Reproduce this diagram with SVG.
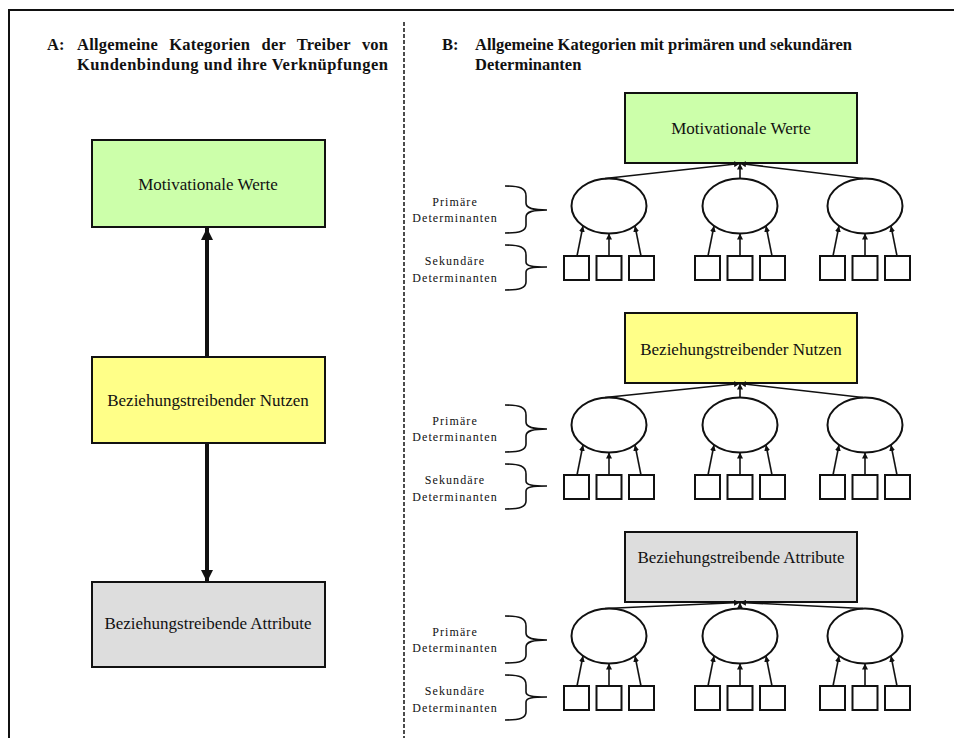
<svg xmlns="http://www.w3.org/2000/svg" width="954" height="738" viewBox="0 0 954 738">
<defs>
<style>
.hdr{font-family:"Liberation Serif","Times New Roman",serif;font-weight:bold;font-size:16.5px;fill:#111}
.lbl{font-family:"Liberation Serif","Times New Roman",serif;font-size:17px;fill:#111;text-anchor:middle}
.sm{font-family:"Liberation Serif","Times New Roman",serif;font-size:12px;fill:#111;text-anchor:middle;letter-spacing:1.1px}
.box{stroke:#111;stroke-width:2}
.ell{fill:#fff;stroke:#111;stroke-width:2}
.sq{fill:#fff;stroke:#111;stroke-width:2}
.ln{stroke:#111;stroke-width:1.6;fill:none}
.brace{stroke:#111;stroke-width:1.6;fill:none}
.thick{stroke:#111;stroke-width:4;fill:none}
</style>
<marker id="ah" viewBox="0 0 10 10" refX="10" refY="5" markerWidth="6" markerHeight="6" orient="auto" markerUnits="userSpaceOnUse">
<path d="M0,0 L10,5 L0,10 z" fill="#111"/>
</marker>
<marker id="ahBig" viewBox="0 0 10 10" refX="10" refY="5" markerWidth="12" markerHeight="12" orient="auto" markerUnits="userSpaceOnUse">
<path d="M0,0 L10,5 L0,10 z" fill="#111"/>
</marker>
<g id="tree">
<ellipse class="ell" cx="0" cy="0" rx="37.5" ry="27.5"/>
<rect class="sq" x="-45" y="50" width="25" height="24"/>
<rect class="sq" x="-12.5" y="50" width="25" height="24"/>
<rect class="sq" x="20" y="50" width="25" height="24"/>
<line class="ln" x1="-32" y1="50" x2="-26" y2="20" marker-end="url(#ah)"/>
<line class="ln" x1="0" y1="50" x2="0" y2="27.5" marker-end="url(#ah)"/>
<line class="ln" x1="32" y1="50" x2="26" y2="20" marker-end="url(#ah)"/>
</g>
<g id="braces">
<path class="brace" d="M505,186 C520,186 526,188 526,196 L526,203 C526,208 532,210 547,210 C532,210 526,212 526,217 L526,225 C526,231 520,233 505,233"/>
<path class="brace" d="M505,245 C520,245 526,247 526,255 L526,262 C526,266 532,267 547,267 C532,267 526,268 526,272 L526,282 C526,288 520,290 505,290"/>
<text class="sm" x="455" y="206">Primäre</text>
<text class="sm" x="455" y="222">Determinanten</text>
<text class="sm" x="455" y="265">Sekundäre</text>
<text class="sm" x="455" y="282">Determinanten</text>
</g>
</defs>

<g id="frame">
<line x1="8" y1="10" x2="954" y2="10" stroke="#111" stroke-width="2"/>
<line x1="9" y1="10" x2="9" y2="738" stroke="#111" stroke-width="2"/>
<line x1="404" y1="22" x2="404" y2="738" stroke="#111" stroke-width="1.5" stroke-dasharray="4,2"/>
</g>

<g id="headerA">
<text class="hdr" x="47" y="50">A:</text>
<text class="hdr" x="77" y="50" word-spacing="7" textLength="311" lengthAdjust="spacing">Allgemeine Kategorien der Treiber von</text>
<text class="hdr" x="77" y="70" textLength="311" lengthAdjust="spacing">Kundenbindung und ihre Verknüpfungen</text>
</g>
<g id="headerB">
<text class="hdr" x="442" y="50">B:</text>
<text class="hdr" x="475" y="50" textLength="377" lengthAdjust="spacing">Allgemeine Kategorien mit primären und sekundären</text>
<text class="hdr" x="475" y="70">Determinanten</text>
</g>

<g id="A-motiv">
<rect class="box" x="92" y="140" width="233" height="87" fill="#ccffaa"/>
<text class="lbl" x="208" y="190">Motivationale Werte</text>
</g>
<g id="A-nutzen">
<rect class="box" x="92" y="357" width="233" height="86" fill="#ffff88"/>
<text class="lbl" x="208" y="406">Beziehungstreibender Nutzen</text>
</g>
<g id="A-attr">
<rect class="box" x="92" y="582" width="233" height="85" fill="#dddddd"/>
<text class="lbl" x="208" y="629">Beziehungstreibende Attribute</text>
</g>
<g id="A-connectors">
<line class="thick" x1="207" y1="357" x2="207" y2="228" marker-end="url(#ahBig)"/>
<line class="thick" x1="207" y1="443" x2="207" y2="582" marker-end="url(#ahBig)"/>
</g>

<g id="B-motiv">
<rect class="box" x="625" y="93" width="232" height="70" fill="#ccffaa"/>
<text class="lbl" x="741" y="134">Motivationale Werte</text>
</g>
<g id="B-nutzen">
<rect class="box" x="625" y="313" width="232" height="70" fill="#ffff88"/>
<text class="lbl" x="741" y="355">Beziehungstreibender Nutzen</text>
</g>
<g id="B-attr">
<rect class="box" x="625" y="532" width="232" height="70" fill="#dddddd"/>
<text class="lbl" x="741" y="563">Beziehungstreibende Attribute</text>
</g>

<g id="row1">
<use href="#tree" x="609" y="206"/>
<use href="#tree" x="740" y="206"/>
<use href="#tree" x="865" y="206"/>
<use href="#braces"/>
</g>
<g id="row2">
<use href="#tree" x="609" y="425"/>
<use href="#tree" x="740" y="425"/>
<use href="#tree" x="865" y="425"/>
<use href="#braces" y="219"/>
</g>
<g id="row3">
<use href="#tree" x="609" y="636"/>
<use href="#tree" x="740" y="636"/>
<use href="#tree" x="865" y="636"/>
<use href="#braces" y="430"/>
</g>

<g id="B-connectors">
<line class="ln" x1="605" y1="178.5" x2="740" y2="163.5" marker-end="url(#ah)"/>
<line class="ln" x1="740" y1="178.5" x2="740" y2="163.5" marker-end="url(#ah)"/>
<line class="ln" x1="863" y1="178.5" x2="740" y2="163.5" marker-end="url(#ah)"/>
<line class="ln" x1="605" y1="397.5" x2="740" y2="383.5" marker-end="url(#ah)"/>
<line class="ln" x1="740" y1="397.5" x2="740" y2="383.5" marker-end="url(#ah)"/>
<line class="ln" x1="863" y1="397.5" x2="740" y2="383.5" marker-end="url(#ah)"/>
<line class="ln" x1="605" y1="608.5" x2="740" y2="602.5" marker-end="url(#ah)"/>
<line class="ln" x1="740" y1="608.5" x2="740" y2="602.5" marker-end="url(#ah)"/>
<line class="ln" x1="863" y1="608.5" x2="740" y2="602.5" marker-end="url(#ah)"/>
</g>
</svg>
